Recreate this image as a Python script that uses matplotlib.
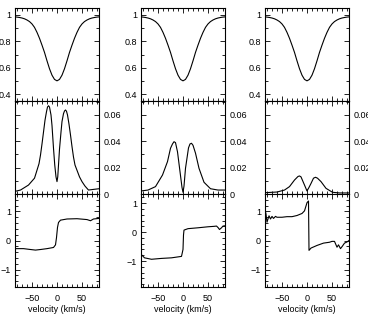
import matplotlib
matplotlib.use('Agg')
import matplotlib.pyplot as plt
from matplotlib.ticker import MultipleLocator, FuncFormatter

# top row: intensity profile (same in all three columns)
v_top = [-85, -80, -75, -70, -65, -60, -55, -50, -45, -40, -35, -30, -25, -20, -15, -10, -5,
         0, 5, 10, 15, 20, 25, 30, 35, 40, 45, 50, 55, 60, 65, 70, 75, 80, 85]
intensity = [0.986, 0.984, 0.981, 0.977, 0.971, 0.962, 0.950, 0.932, 0.906, 0.868, 0.823, 0.771,
             0.716, 0.652, 0.592, 0.543, 0.511, 0.500, 0.511, 0.543, 0.592, 0.652, 0.716, 0.771,
             0.823, 0.868, 0.906, 0.932, 0.950, 0.962, 0.971, 0.977, 0.981, 0.984, 0.986]

# middle row: linear polarisation
v_mid1 = [-84, -73, -57, -45, -43, -36, -33, -30, -27, -24, -21, -19, -17, -15, -12, -10, -7, -4.5,
          -2, 0, 1.5, 3, 5, 8, 10, 13, 15, 17, 19, 21, 24, 27, 30, 33, 36, 40, 45, 50, 56, 63, 73, 84]
lin_pol1 = [0.002, 0.003, 0.0068, 0.012, 0.0144, 0.023, 0.0296, 0.038, 0.047, 0.056, 0.0625, 0.066,
            0.067, 0.066, 0.060, 0.052, 0.0347, 0.022, 0.013, 0.0094, 0.013, 0.022, 0.034, 0.047,
            0.055, 0.061, 0.063, 0.0638, 0.0628, 0.060, 0.053, 0.0448, 0.036, 0.028, 0.022, 0.018,
            0.013, 0.0094, 0.006, 0.003, 0.0035, 0.004]

v_mid2 = [-84, -70, -55, -41, -31, -25, -21, -18, -15, -11, -6, -2, 0, 2, 5, 11, 14, 17, 20, 25,
          32, 42, 55, 70, 84]
lin_pol2 = [0.0023, 0.003, 0.0056, 0.0144, 0.0246, 0.0347, 0.038, 0.0397, 0.039, 0.032, 0.017,
            0.005, 0.0013, 0.006, 0.0195, 0.035, 0.038, 0.0385, 0.037, 0.031, 0.0195, 0.0089,
            0.004, 0.003, 0.003]

v_mid3 = [-84, -60, -45, -35, -25, -18, -15, -12, -5, 0, 4, 8, 13, 17, 21, 28, 38, 51, 65, 84]
lin_pol3 = [0.001, 0.0015, 0.003, 0.0056, 0.0106, 0.0133, 0.0137, 0.013, 0.0068, 0.0023, 0.005,
            0.008, 0.012, 0.0127, 0.012, 0.0094, 0.0043, 0.0013, 0.0008, 0.0008]

# bottom row: position angle
v_bot1 = [-84, -67, -53, -43, -33, -20, -7, -3, -1, 1, 3, 7, 20, 40, 60, 67, 73, 84]
angle1 = [-0.28, -0.28, -0.31, -0.33, -0.31, -0.28, -0.24, -0.15, 0.1, 0.45, 0.62, 0.70, 0.74,
          0.75, 0.72, 0.68, 0.74, 0.76]

v_bot2 = [-84, -82, -77, -63, -43, -23, -3, 0, 1, 2, 10, 30, 50, 62, 67, 70, 73, 77, 80, 84]
angle2 = [-0.78, -0.80, -0.89, -0.94, -0.91, -0.89, -0.84, -0.6, -0.1, 0.07, 0.12, 0.15, 0.185,
          0.2, 0.21, 0.16, 0.09, 0.15, 0.21, 0.22]

v_bot3 = [-85, -83, -82, -80, -76, -73, -70, -67, -63, -60, -50, -40, -30, -20, -10, -5, 0, 3,
          4, 8, 20, 33, 45, 50, 55, 60, 63, 67, 71, 75, 80, 84]
angle3 = [1.0, 0.99, 0.91, 0.63, 0.85, 0.74, 0.83, 0.76, 0.83, 0.80, 0.80, 0.82, 0.82, 0.86,
          0.93, 1.02, 1.30, 1.36, -0.34, -0.26, -0.17, -0.09, -0.06, -0.03, -0.03, -0.23, -0.15,
          -0.28, -0.19, -0.09, -0.05, 0.0]

mid_data = [(v_mid1, lin_pol1), (v_mid2, lin_pol2), (v_mid3, lin_pol3)]
bot_data = [(v_bot1, angle1), (v_bot2, angle2), (v_bot3, angle3)]
bot_ylims = [(-1.6, 1.6), (-1.9, 1.32), (-1.6, 1.6)]

plt.rcParams['font.family'] = ['Liberation Sans', 'DejaVu Sans']
plt.rcParams['axes.unicode_minus'] = True

fmt = FuncFormatter(lambda x, pos: ('%g' % round(x, 4)).replace('-', '\u2212'))

fig = plt.figure(figsize=(3.68, 3.15), dpi=100)

lefts = [15 / 368, 141 / 368, 265 / 368]
width = 84 / 368
height = 93 / 315
bottoms = [1 - 101 / 315, 1 - 194 / 315, 1 - 287 / 315]
fs = 6.5
lw = 0.8


def style(ax):
    ax.set_xlim(-84, 84)
    ax.xaxis.set_major_locator(MultipleLocator(50))
    ax.xaxis.set_minor_locator(MultipleLocator(10))
    ax.tick_params(which='both', direction='in', top=True, bottom=True, left=True, right=True,
                   labelsize=fs, width=0.6, pad=3)
    ax.tick_params(axis='x', pad=5)
    ax.tick_params(which='major', length=3.5)
    ax.tick_params(which='minor', length=2)
    for s in ax.spines.values():
        s.set_linewidth(0.8)
    ax.yaxis.set_major_formatter(fmt)
    ax.xaxis.set_major_formatter(fmt)


for i in range(3):
    # top
    ax = fig.add_axes([lefts[i], bottoms[0], width, height])
    ax.plot(v_top, intensity, color='k', lw=lw)
    style(ax)
    ax.set_ylim(0.347, 1.053)
    ax.yaxis.set_major_locator(MultipleLocator(0.2))
    ax.yaxis.set_minor_locator(MultipleLocator(0.1))
    ax.tick_params(labelbottom=False)

    # middle
    ax = fig.add_axes([lefts[i], bottoms[1], width, height])
    ax.plot(mid_data[i][0], mid_data[i][1], color='k', lw=lw)
    style(ax)
    ax.set_ylim(0, 0.0706)
    ax.yaxis.set_major_locator(MultipleLocator(0.02))
    ax.yaxis.set_minor_locator(MultipleLocator(0.01))
    ax.tick_params(labelbottom=False, labelleft=False, labelright=True)

    # bottom
    ax = fig.add_axes([lefts[i], bottoms[2], width, height])
    ax.plot(bot_data[i][0], bot_data[i][1], color='k', lw=lw)
    style(ax)
    ax.set_ylim(*bot_ylims[i])
    ax.yaxis.set_major_locator(MultipleLocator(1))
    ax.yaxis.set_minor_locator(MultipleLocator(0.2))
    ax.set_xlabel('velocity (km/s)', fontsize=fs, labelpad=1.5)

fig.savefig('out.png', dpi=100)
